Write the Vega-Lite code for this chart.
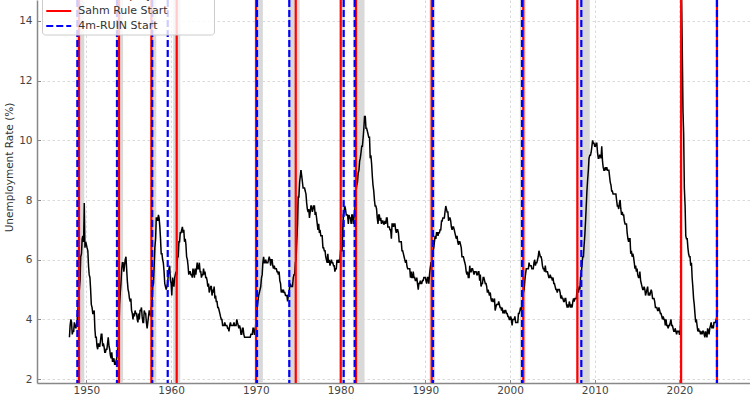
{
"$schema":"https://vega.github.io/schema/vega-lite/v6.json",
"width":713,"height":383,
"autosize":{"type":"none"},
"padding":{"left":37,"top":0,"right":0,"bottom":17},
"background":"white",
"config":{
 "font":"DejaVu Sans",
 "view":{"stroke":null},
 "axis":{"labelFont":"DejaVu Sans","labelFontSize":10.5,"labelColor":"#444444","domainColor":"#888888","domainWidth":1.5,"tickColor":"#888888","tickSize":-3.5,"tickWidth":1,"gridColor":"#d0d0d0","gridDash":[2.5,2.5],"gridWidth":0.8,"titleFont":"DejaVu Sans","titleFontSize":10.5,"titleColor":"#333333","titleFontWeight":"normal"},
 "legend":{"symbolType":"M-2,0H2","symbolSize":156,"symbolStrokeWidth":2,"symbolFillColor":"transparent","symbolOffset":6.25,"labelOffset":12,"labelFont":"DejaVu Sans","labelFontSize":11,"labelColor":"#333333","padding":3,"rowPadding":2,"fillColor":"rgba(255,255,255,0.8)","strokeColor":"#cccccc","cornerRadius":3}
},
"datasets":{
"rec":[{"a":1948.83,"b":1949.75},{"a":1953.5,"b":1954.33},{"a":1957.58,"b":1958.25},{"a":1960.25,"b":1961.08},{"a":1969.92,"b":1970.83},{"a":1973.83,"b":1975.17},{"a":1980.0,"b":1980.5},{"a":1981.5,"b":1982.83},{"a":1990.5,"b":1991.17},{"a":2001.17,"b":2001.83},{"a":2007.92,"b":2009.42},{"a":2020.08,"b":2020.25}],
"sig":[{"x":1949.13,"s":"Sahm Rule Start"},{"x":1953.85,"s":"Sahm Rule Start"},{"x":1957.67,"s":"Sahm Rule Start"},{"x":1960.66,"s":"Sahm Rule Start"},{"x":1970.02,"s":"Sahm Rule Start"},{"x":1974.71,"s":"Sahm Rule Start"},{"x":1980.02,"s":"Sahm Rule Start"},{"x":1981.82,"s":"Sahm Rule Start"},{"x":1990.76,"s":"Sahm Rule Start"},{"x":2001.57,"s":"Sahm Rule Start"},{"x":2007.95,"s":"Sahm Rule Start"},{"x":2020.2,"s":"Sahm Rule Start"},{"x":2024.43,"s":"Sahm Rule Start"},
{"x":1948.93,"s":"4m-RUIN Start"},{"x":1953.61,"s":"4m-RUIN Start"},{"x":1957.77,"s":"4m-RUIN Start"},{"x":1959.6,"s":"4m-RUIN Start"},{"x":1970.14,"s":"4m-RUIN Start"},{"x":1973.95,"s":"4m-RUIN Start"},{"x":1980.37,"s":"4m-RUIN Start"},{"x":1981.67,"s":"4m-RUIN Start"},{"x":1990.91,"s":"4m-RUIN Start"},{"x":2001.42,"s":"4m-RUIN Start"},{"x":2008.42,"s":"4m-RUIN Start"},{"x":2024.43,"s":"4m-RUIN Start"}],
"rate":[
{"t":1948.00,"u":3.4},{"t":1948.08,"u":3.8},{"t":1948.17,"u":4.0},{"t":1948.25,"u":3.9},{"t":1948.33,"u":3.5},{"t":1948.42,"u":3.6},{"t":1948.50,"u":3.6},{"t":1948.58,"u":3.9},{"t":1948.67,"u":3.8},{"t":1948.75,"u":3.7},{"t":1948.83,"u":3.8},{"t":1948.92,"u":4.0},
{"t":1949.00,"u":4.3},{"t":1949.08,"u":4.7},{"t":1949.17,"u":5.0},{"t":1949.25,"u":5.3},{"t":1949.33,"u":6.1},{"t":1949.42,"u":6.2},{"t":1949.50,"u":6.7},{"t":1949.58,"u":6.8},{"t":1949.67,"u":6.6},{"t":1949.75,"u":7.9},{"t":1949.83,"u":6.4},{"t":1949.92,"u":6.6},
{"t":1950.00,"u":6.5},{"t":1950.08,"u":6.4},{"t":1950.17,"u":6.3},{"t":1950.25,"u":5.8},{"t":1950.33,"u":5.5},{"t":1950.42,"u":5.4},{"t":1950.50,"u":5.0},{"t":1950.58,"u":4.5},{"t":1950.67,"u":4.4},{"t":1950.75,"u":4.2},{"t":1950.83,"u":4.2},{"t":1950.92,"u":4.3},
{"t":1951.00,"u":3.7},{"t":1951.08,"u":3.4},{"t":1951.17,"u":3.4},{"t":1951.25,"u":3.1},{"t":1951.33,"u":3.0},{"t":1951.42,"u":3.2},{"t":1951.50,"u":3.1},{"t":1951.58,"u":3.1},{"t":1951.67,"u":3.3},{"t":1951.75,"u":3.5},{"t":1951.83,"u":3.5},{"t":1951.92,"u":3.1},
{"t":1952.00,"u":3.2},{"t":1952.08,"u":3.1},{"t":1952.17,"u":2.9},{"t":1952.25,"u":2.9},{"t":1952.33,"u":3.0},{"t":1952.42,"u":3.0},{"t":1952.50,"u":3.2},{"t":1952.58,"u":3.4},{"t":1952.67,"u":3.1},{"t":1952.75,"u":3.0},{"t":1952.83,"u":2.8},{"t":1952.92,"u":2.7},
{"t":1953.00,"u":2.9},{"t":1953.08,"u":2.6},{"t":1953.17,"u":2.6},{"t":1953.25,"u":2.7},{"t":1953.33,"u":2.5},{"t":1953.42,"u":2.5},{"t":1953.50,"u":2.6},{"t":1953.58,"u":2.7},{"t":1953.67,"u":2.9},{"t":1953.75,"u":3.1},{"t":1953.83,"u":3.5},{"t":1953.92,"u":4.5},
{"t":1954.00,"u":4.9},{"t":1954.08,"u":5.2},{"t":1954.17,"u":5.7},{"t":1954.25,"u":5.9},{"t":1954.33,"u":5.9},{"t":1954.42,"u":5.6},{"t":1954.50,"u":5.8},{"t":1954.58,"u":6.0},{"t":1954.67,"u":6.1},{"t":1954.75,"u":5.7},{"t":1954.83,"u":5.3},{"t":1954.92,"u":5.0},
{"t":1955.00,"u":4.9},{"t":1955.08,"u":4.7},{"t":1955.17,"u":4.6},{"t":1955.25,"u":4.7},{"t":1955.33,"u":4.3},{"t":1955.42,"u":4.2},{"t":1955.50,"u":4.0},{"t":1955.58,"u":4.2},{"t":1955.67,"u":4.1},{"t":1955.75,"u":4.3},{"t":1955.83,"u":4.2},{"t":1955.92,"u":4.2},
{"t":1956.00,"u":4.0},{"t":1956.08,"u":3.9},{"t":1956.17,"u":4.2},{"t":1956.25,"u":4.0},{"t":1956.33,"u":4.3},{"t":1956.42,"u":4.3},{"t":1956.50,"u":4.4},{"t":1956.58,"u":4.1},{"t":1956.67,"u":3.9},{"t":1956.75,"u":3.9},{"t":1956.83,"u":4.3},{"t":1956.92,"u":4.2},
{"t":1957.00,"u":4.2},{"t":1957.08,"u":3.9},{"t":1957.17,"u":3.7},{"t":1957.25,"u":3.9},{"t":1957.33,"u":4.1},{"t":1957.42,"u":4.3},{"t":1957.50,"u":4.2},{"t":1957.58,"u":4.1},{"t":1957.67,"u":4.4},{"t":1957.75,"u":4.5},{"t":1957.83,"u":5.1},{"t":1957.92,"u":5.2},
{"t":1958.00,"u":5.8},{"t":1958.08,"u":6.4},{"t":1958.17,"u":6.7},{"t":1958.25,"u":7.4},{"t":1958.33,"u":7.4},{"t":1958.42,"u":7.3},{"t":1958.50,"u":7.5},{"t":1958.58,"u":7.4},{"t":1958.67,"u":7.1},{"t":1958.75,"u":6.7},{"t":1958.83,"u":6.2},{"t":1958.92,"u":6.2},
{"t":1959.00,"u":6.0},{"t":1959.08,"u":5.9},{"t":1959.17,"u":5.6},{"t":1959.25,"u":5.2},{"t":1959.33,"u":5.1},{"t":1959.42,"u":5.0},{"t":1959.50,"u":5.1},{"t":1959.58,"u":5.2},{"t":1959.67,"u":5.5},{"t":1959.75,"u":5.7},{"t":1959.83,"u":5.8},{"t":1959.92,"u":5.3},
{"t":1960.00,"u":5.2},{"t":1960.08,"u":4.8},{"t":1960.17,"u":5.4},{"t":1960.25,"u":5.2},{"t":1960.33,"u":5.1},{"t":1960.42,"u":5.4},{"t":1960.50,"u":5.5},{"t":1960.58,"u":5.6},{"t":1960.67,"u":5.5},{"t":1960.75,"u":6.1},{"t":1960.83,"u":6.1},{"t":1960.92,"u":6.6},
{"t":1961.00,"u":6.6},{"t":1961.08,"u":6.9},{"t":1961.17,"u":6.9},{"t":1961.25,"u":7.0},{"t":1961.33,"u":7.1},{"t":1961.42,"u":6.9},{"t":1961.50,"u":7.0},{"t":1961.58,"u":6.6},{"t":1961.67,"u":6.7},{"t":1961.75,"u":6.5},{"t":1961.83,"u":6.1},{"t":1961.92,"u":6.0},
{"t":1962.00,"u":5.8},{"t":1962.08,"u":5.5},{"t":1962.17,"u":5.6},{"t":1962.25,"u":5.6},{"t":1962.33,"u":5.5},{"t":1962.42,"u":5.5},{"t":1962.50,"u":5.4},{"t":1962.58,"u":5.7},{"t":1962.67,"u":5.6},{"t":1962.75,"u":5.4},{"t":1962.83,"u":5.7},{"t":1962.92,"u":5.5},
{"t":1963.00,"u":5.7},{"t":1963.08,"u":5.9},{"t":1963.17,"u":5.7},{"t":1963.25,"u":5.7},{"t":1963.33,"u":5.9},{"t":1963.42,"u":5.6},{"t":1963.50,"u":5.6},{"t":1963.58,"u":5.4},{"t":1963.67,"u":5.5},{"t":1963.75,"u":5.5},{"t":1963.83,"u":5.7},{"t":1963.92,"u":5.5},
{"t":1964.00,"u":5.6},{"t":1964.08,"u":5.4},{"t":1964.17,"u":5.4},{"t":1964.25,"u":5.3},{"t":1964.33,"u":5.1},{"t":1964.42,"u":5.2},{"t":1964.50,"u":4.9},{"t":1964.58,"u":5.0},{"t":1964.67,"u":5.1},{"t":1964.75,"u":5.1},{"t":1964.83,"u":4.8},{"t":1964.92,"u":5.0},
{"t":1965.00,"u":4.9},{"t":1965.08,"u":5.1},{"t":1965.17,"u":4.7},{"t":1965.25,"u":4.8},{"t":1965.33,"u":4.6},{"t":1965.42,"u":4.6},{"t":1965.50,"u":4.4},{"t":1965.58,"u":4.4},{"t":1965.67,"u":4.3},{"t":1965.75,"u":4.2},{"t":1965.83,"u":4.1},{"t":1965.92,"u":4.0},
{"t":1966.00,"u":4.0},{"t":1966.08,"u":3.8},{"t":1966.17,"u":3.8},{"t":1966.25,"u":3.8},{"t":1966.33,"u":3.9},{"t":1966.42,"u":3.8},{"t":1966.50,"u":3.8},{"t":1966.58,"u":3.8},{"t":1966.67,"u":3.7},{"t":1966.75,"u":3.7},{"t":1966.83,"u":3.6},{"t":1966.92,"u":3.8},
{"t":1967.00,"u":3.9},{"t":1967.08,"u":3.8},{"t":1967.17,"u":3.8},{"t":1967.25,"u":3.8},{"t":1967.33,"u":3.8},{"t":1967.42,"u":3.9},{"t":1967.50,"u":3.8},{"t":1967.58,"u":3.8},{"t":1967.67,"u":3.8},{"t":1967.75,"u":4.0},{"t":1967.83,"u":3.9},{"t":1967.92,"u":3.8},
{"t":1968.00,"u":3.7},{"t":1968.08,"u":3.8},{"t":1968.17,"u":3.7},{"t":1968.25,"u":3.5},{"t":1968.33,"u":3.5},{"t":1968.42,"u":3.7},{"t":1968.50,"u":3.7},{"t":1968.58,"u":3.5},{"t":1968.67,"u":3.4},{"t":1968.75,"u":3.4},{"t":1968.83,"u":3.4},{"t":1968.92,"u":3.4},
{"t":1969.00,"u":3.4},{"t":1969.08,"u":3.4},{"t":1969.17,"u":3.4},{"t":1969.25,"u":3.4},{"t":1969.33,"u":3.4},{"t":1969.42,"u":3.5},{"t":1969.50,"u":3.5},{"t":1969.58,"u":3.5},{"t":1969.67,"u":3.7},{"t":1969.75,"u":3.7},{"t":1969.83,"u":3.5},{"t":1969.92,"u":3.5},
{"t":1970.00,"u":3.9},{"t":1970.08,"u":4.2},{"t":1970.17,"u":4.4},{"t":1970.25,"u":4.6},{"t":1970.33,"u":4.8},{"t":1970.42,"u":4.9},{"t":1970.50,"u":5.0},{"t":1970.58,"u":5.1},{"t":1970.67,"u":5.4},{"t":1970.75,"u":5.5},{"t":1970.83,"u":5.9},{"t":1970.92,"u":6.1},
{"t":1971.00,"u":5.9},{"t":1971.08,"u":5.9},{"t":1971.17,"u":6.0},{"t":1971.25,"u":5.9},{"t":1971.33,"u":5.9},{"t":1971.42,"u":5.9},{"t":1971.50,"u":6.0},{"t":1971.58,"u":6.1},{"t":1971.67,"u":6.0},{"t":1971.75,"u":5.8},{"t":1971.83,"u":6.0},{"t":1971.92,"u":6.0},
{"t":1972.00,"u":5.8},{"t":1972.08,"u":5.7},{"t":1972.17,"u":5.8},{"t":1972.25,"u":5.7},{"t":1972.33,"u":5.7},{"t":1972.42,"u":5.7},{"t":1972.50,"u":5.6},{"t":1972.58,"u":5.6},{"t":1972.67,"u":5.5},{"t":1972.75,"u":5.6},{"t":1972.83,"u":5.3},{"t":1972.92,"u":5.2},
{"t":1973.00,"u":4.9},{"t":1973.08,"u":5.0},{"t":1973.17,"u":4.9},{"t":1973.25,"u":5.0},{"t":1973.33,"u":4.9},{"t":1973.42,"u":4.9},{"t":1973.50,"u":4.8},{"t":1973.58,"u":4.8},{"t":1973.67,"u":4.8},{"t":1973.75,"u":4.6},{"t":1973.83,"u":4.8},{"t":1973.92,"u":4.9},
{"t":1974.00,"u":5.1},{"t":1974.08,"u":5.2},{"t":1974.17,"u":5.1},{"t":1974.25,"u":5.1},{"t":1974.33,"u":5.1},{"t":1974.42,"u":5.4},{"t":1974.50,"u":5.5},{"t":1974.58,"u":5.5},{"t":1974.67,"u":5.9},{"t":1974.75,"u":6.0},{"t":1974.83,"u":6.6},{"t":1974.92,"u":7.2},
{"t":1975.00,"u":8.1},{"t":1975.08,"u":8.1},{"t":1975.17,"u":8.6},{"t":1975.25,"u":8.8},{"t":1975.33,"u":9.0},{"t":1975.42,"u":8.8},{"t":1975.50,"u":8.6},{"t":1975.58,"u":8.4},{"t":1975.67,"u":8.4},{"t":1975.75,"u":8.4},{"t":1975.83,"u":8.3},{"t":1975.92,"u":8.2},
{"t":1976.00,"u":7.9},{"t":1976.08,"u":7.7},{"t":1976.17,"u":7.6},{"t":1976.25,"u":7.7},{"t":1976.33,"u":7.4},{"t":1976.42,"u":7.6},{"t":1976.50,"u":7.8},{"t":1976.58,"u":7.8},{"t":1976.67,"u":7.6},{"t":1976.75,"u":7.7},{"t":1976.83,"u":7.8},{"t":1976.92,"u":7.8},
{"t":1977.00,"u":7.5},{"t":1977.08,"u":7.6},{"t":1977.17,"u":7.4},{"t":1977.25,"u":7.2},{"t":1977.33,"u":7.0},{"t":1977.42,"u":7.2},{"t":1977.50,"u":6.9},{"t":1977.58,"u":7.0},{"t":1977.67,"u":6.8},{"t":1977.75,"u":6.8},{"t":1977.83,"u":6.8},{"t":1977.92,"u":6.4},
{"t":1978.00,"u":6.4},{"t":1978.08,"u":6.3},{"t":1978.17,"u":6.3},{"t":1978.25,"u":6.1},{"t":1978.33,"u":6.0},{"t":1978.42,"u":5.9},{"t":1978.50,"u":6.2},{"t":1978.58,"u":5.9},{"t":1978.67,"u":6.0},{"t":1978.75,"u":5.8},{"t":1978.83,"u":5.9},{"t":1978.92,"u":6.0},
{"t":1979.00,"u":5.9},{"t":1979.08,"u":5.9},{"t":1979.17,"u":5.8},{"t":1979.25,"u":5.8},{"t":1979.33,"u":5.6},{"t":1979.42,"u":5.7},{"t":1979.50,"u":5.7},{"t":1979.58,"u":6.0},{"t":1979.67,"u":5.9},{"t":1979.75,"u":6.0},{"t":1979.83,"u":5.9},{"t":1979.92,"u":6.0},
{"t":1980.00,"u":6.3},{"t":1980.08,"u":6.3},{"t":1980.17,"u":6.3},{"t":1980.25,"u":6.9},{"t":1980.33,"u":7.5},{"t":1980.42,"u":7.6},{"t":1980.50,"u":7.8},{"t":1980.58,"u":7.7},{"t":1980.67,"u":7.5},{"t":1980.75,"u":7.5},{"t":1980.83,"u":7.5},{"t":1980.92,"u":7.2},
{"t":1981.00,"u":7.5},{"t":1981.08,"u":7.4},{"t":1981.17,"u":7.4},{"t":1981.25,"u":7.2},{"t":1981.33,"u":7.5},{"t":1981.42,"u":7.5},{"t":1981.50,"u":7.2},{"t":1981.58,"u":7.4},{"t":1981.67,"u":7.6},{"t":1981.75,"u":7.9},{"t":1981.83,"u":8.3},{"t":1981.92,"u":8.5},
{"t":1982.00,"u":8.6},{"t":1982.08,"u":8.9},{"t":1982.17,"u":9.0},{"t":1982.25,"u":9.3},{"t":1982.33,"u":9.4},{"t":1982.42,"u":9.6},{"t":1982.50,"u":9.8},{"t":1982.58,"u":9.8},{"t":1982.67,"u":10.1},{"t":1982.75,"u":10.4},{"t":1982.83,"u":10.8},{"t":1982.92,"u":10.8},
{"t":1983.00,"u":10.4},{"t":1983.08,"u":10.4},{"t":1983.17,"u":10.3},{"t":1983.25,"u":10.2},{"t":1983.33,"u":10.1},{"t":1983.42,"u":10.1},{"t":1983.50,"u":9.4},{"t":1983.58,"u":9.5},{"t":1983.67,"u":9.2},{"t":1983.75,"u":8.8},{"t":1983.83,"u":8.5},{"t":1983.92,"u":8.3},
{"t":1984.00,"u":8.0},{"t":1984.08,"u":7.8},{"t":1984.17,"u":7.8},{"t":1984.25,"u":7.7},{"t":1984.33,"u":7.4},{"t":1984.42,"u":7.2},{"t":1984.50,"u":7.5},{"t":1984.58,"u":7.5},{"t":1984.67,"u":7.3},{"t":1984.75,"u":7.4},{"t":1984.83,"u":7.2},{"t":1984.92,"u":7.3},
{"t":1985.00,"u":7.3},{"t":1985.08,"u":7.2},{"t":1985.17,"u":7.2},{"t":1985.25,"u":7.3},{"t":1985.33,"u":7.2},{"t":1985.42,"u":7.4},{"t":1985.50,"u":7.4},{"t":1985.58,"u":7.1},{"t":1985.67,"u":7.1},{"t":1985.75,"u":7.1},{"t":1985.83,"u":7.0},{"t":1985.92,"u":7.0},
{"t":1986.00,"u":6.7},{"t":1986.08,"u":7.2},{"t":1986.17,"u":7.2},{"t":1986.25,"u":7.1},{"t":1986.33,"u":7.2},{"t":1986.42,"u":7.2},{"t":1986.50,"u":7.0},{"t":1986.58,"u":6.9},{"t":1986.67,"u":7.0},{"t":1986.75,"u":7.0},{"t":1986.83,"u":6.9},{"t":1986.92,"u":6.6},
{"t":1987.00,"u":6.6},{"t":1987.08,"u":6.6},{"t":1987.17,"u":6.6},{"t":1987.25,"u":6.3},{"t":1987.33,"u":6.3},{"t":1987.42,"u":6.2},{"t":1987.50,"u":6.1},{"t":1987.58,"u":6.0},{"t":1987.67,"u":5.9},{"t":1987.75,"u":6.0},{"t":1987.83,"u":5.8},{"t":1987.92,"u":5.7},
{"t":1988.00,"u":5.7},{"t":1988.08,"u":5.7},{"t":1988.17,"u":5.7},{"t":1988.25,"u":5.4},{"t":1988.33,"u":5.6},{"t":1988.42,"u":5.4},{"t":1988.50,"u":5.4},{"t":1988.58,"u":5.6},{"t":1988.67,"u":5.4},{"t":1988.75,"u":5.4},{"t":1988.83,"u":5.3},{"t":1988.92,"u":5.3},
{"t":1989.00,"u":5.4},{"t":1989.08,"u":5.2},{"t":1989.17,"u":5.0},{"t":1989.25,"u":5.2},{"t":1989.33,"u":5.2},{"t":1989.42,"u":5.3},{"t":1989.50,"u":5.2},{"t":1989.58,"u":5.2},{"t":1989.67,"u":5.3},{"t":1989.75,"u":5.3},{"t":1989.83,"u":5.4},{"t":1989.92,"u":5.4},
{"t":1990.00,"u":5.4},{"t":1990.08,"u":5.3},{"t":1990.17,"u":5.2},{"t":1990.25,"u":5.4},{"t":1990.33,"u":5.4},{"t":1990.42,"u":5.2},{"t":1990.50,"u":5.5},{"t":1990.58,"u":5.7},{"t":1990.67,"u":5.9},{"t":1990.75,"u":5.9},{"t":1990.83,"u":6.2},{"t":1990.92,"u":6.3},
{"t":1991.00,"u":6.4},{"t":1991.08,"u":6.6},{"t":1991.17,"u":6.8},{"t":1991.25,"u":6.7},{"t":1991.33,"u":6.9},{"t":1991.42,"u":6.9},{"t":1991.50,"u":6.8},{"t":1991.58,"u":6.9},{"t":1991.67,"u":6.9},{"t":1991.75,"u":7.0},{"t":1991.83,"u":7.0},{"t":1991.92,"u":7.3},
{"t":1992.00,"u":7.3},{"t":1992.08,"u":7.4},{"t":1992.17,"u":7.4},{"t":1992.25,"u":7.4},{"t":1992.33,"u":7.6},{"t":1992.42,"u":7.8},{"t":1992.50,"u":7.7},{"t":1992.58,"u":7.6},{"t":1992.67,"u":7.6},{"t":1992.75,"u":7.3},{"t":1992.83,"u":7.4},{"t":1992.92,"u":7.4},
{"t":1993.00,"u":7.3},{"t":1993.08,"u":7.1},{"t":1993.17,"u":7.0},{"t":1993.25,"u":7.1},{"t":1993.33,"u":7.1},{"t":1993.42,"u":7.0},{"t":1993.50,"u":6.9},{"t":1993.58,"u":6.8},{"t":1993.67,"u":6.7},{"t":1993.75,"u":6.8},{"t":1993.83,"u":6.6},{"t":1993.92,"u":6.5},
{"t":1994.00,"u":6.6},{"t":1994.08,"u":6.6},{"t":1994.17,"u":6.5},{"t":1994.25,"u":6.4},{"t":1994.33,"u":6.1},{"t":1994.42,"u":6.1},{"t":1994.50,"u":6.1},{"t":1994.58,"u":6.0},{"t":1994.67,"u":5.9},{"t":1994.75,"u":5.8},{"t":1994.83,"u":5.6},{"t":1994.92,"u":5.5},
{"t":1995.00,"u":5.6},{"t":1995.08,"u":5.4},{"t":1995.17,"u":5.4},{"t":1995.25,"u":5.8},{"t":1995.33,"u":5.6},{"t":1995.42,"u":5.6},{"t":1995.50,"u":5.7},{"t":1995.58,"u":5.7},{"t":1995.67,"u":5.6},{"t":1995.75,"u":5.5},{"t":1995.83,"u":5.6},{"t":1995.92,"u":5.6},
{"t":1996.00,"u":5.6},{"t":1996.08,"u":5.5},{"t":1996.17,"u":5.5},{"t":1996.25,"u":5.6},{"t":1996.33,"u":5.6},{"t":1996.42,"u":5.3},{"t":1996.50,"u":5.5},{"t":1996.58,"u":5.1},{"t":1996.67,"u":5.2},{"t":1996.75,"u":5.2},{"t":1996.83,"u":5.4},{"t":1996.92,"u":5.4},
{"t":1997.00,"u":5.3},{"t":1997.08,"u":5.2},{"t":1997.17,"u":5.2},{"t":1997.25,"u":5.1},{"t":1997.33,"u":4.9},{"t":1997.42,"u":5.0},{"t":1997.50,"u":4.9},{"t":1997.58,"u":4.8},{"t":1997.67,"u":4.9},{"t":1997.75,"u":4.7},{"t":1997.83,"u":4.6},{"t":1997.92,"u":4.7},
{"t":1998.00,"u":4.6},{"t":1998.08,"u":4.6},{"t":1998.17,"u":4.7},{"t":1998.25,"u":4.3},{"t":1998.33,"u":4.4},{"t":1998.42,"u":4.5},{"t":1998.50,"u":4.5},{"t":1998.58,"u":4.5},{"t":1998.67,"u":4.6},{"t":1998.75,"u":4.5},{"t":1998.83,"u":4.4},{"t":1998.92,"u":4.4},
{"t":1999.00,"u":4.3},{"t":1999.08,"u":4.4},{"t":1999.17,"u":4.2},{"t":1999.25,"u":4.3},{"t":1999.33,"u":4.2},{"t":1999.42,"u":4.3},{"t":1999.50,"u":4.3},{"t":1999.58,"u":4.2},{"t":1999.67,"u":4.2},{"t":1999.75,"u":4.1},{"t":1999.83,"u":4.1},{"t":1999.92,"u":4.0},
{"t":2000.00,"u":4.0},{"t":2000.08,"u":4.1},{"t":2000.17,"u":4.0},{"t":2000.25,"u":3.8},{"t":2000.33,"u":4.0},{"t":2000.42,"u":4.0},{"t":2000.50,"u":4.0},{"t":2000.58,"u":4.1},{"t":2000.67,"u":3.9},{"t":2000.75,"u":3.9},{"t":2000.83,"u":3.9},{"t":2000.92,"u":3.9},
{"t":2001.00,"u":4.2},{"t":2001.08,"u":4.2},{"t":2001.17,"u":4.3},{"t":2001.25,"u":4.4},{"t":2001.33,"u":4.3},{"t":2001.42,"u":4.5},{"t":2001.50,"u":4.6},{"t":2001.58,"u":4.9},{"t":2001.67,"u":5.0},{"t":2001.75,"u":5.3},{"t":2001.83,"u":5.5},{"t":2001.92,"u":5.7},
{"t":2002.00,"u":5.7},{"t":2002.08,"u":5.7},{"t":2002.17,"u":5.7},{"t":2002.25,"u":5.9},{"t":2002.33,"u":5.8},{"t":2002.42,"u":5.8},{"t":2002.50,"u":5.8},{"t":2002.58,"u":5.7},{"t":2002.67,"u":5.7},{"t":2002.75,"u":5.7},{"t":2002.83,"u":5.9},{"t":2002.92,"u":6.0},
{"t":2003.00,"u":5.8},{"t":2003.08,"u":5.9},{"t":2003.17,"u":5.9},{"t":2003.25,"u":6.0},{"t":2003.33,"u":6.1},{"t":2003.42,"u":6.3},{"t":2003.50,"u":6.2},{"t":2003.58,"u":6.1},{"t":2003.67,"u":6.1},{"t":2003.75,"u":6.0},{"t":2003.83,"u":5.8},{"t":2003.92,"u":5.7},
{"t":2004.00,"u":5.7},{"t":2004.08,"u":5.6},{"t":2004.17,"u":5.8},{"t":2004.25,"u":5.6},{"t":2004.33,"u":5.6},{"t":2004.42,"u":5.6},{"t":2004.50,"u":5.5},{"t":2004.58,"u":5.4},{"t":2004.67,"u":5.4},{"t":2004.75,"u":5.5},{"t":2004.83,"u":5.4},{"t":2004.92,"u":5.4},
{"t":2005.00,"u":5.3},{"t":2005.08,"u":5.4},{"t":2005.17,"u":5.2},{"t":2005.25,"u":5.2},{"t":2005.33,"u":5.1},{"t":2005.42,"u":5.0},{"t":2005.50,"u":5.0},{"t":2005.58,"u":4.9},{"t":2005.67,"u":5.0},{"t":2005.75,"u":5.0},{"t":2005.83,"u":5.0},{"t":2005.92,"u":4.9},
{"t":2006.00,"u":4.7},{"t":2006.08,"u":4.8},{"t":2006.17,"u":4.7},{"t":2006.25,"u":4.7},{"t":2006.33,"u":4.6},{"t":2006.42,"u":4.6},{"t":2006.50,"u":4.7},{"t":2006.58,"u":4.7},{"t":2006.67,"u":4.5},{"t":2006.75,"u":4.4},{"t":2006.83,"u":4.5},{"t":2006.92,"u":4.4},
{"t":2007.00,"u":4.6},{"t":2007.08,"u":4.5},{"t":2007.17,"u":4.4},{"t":2007.25,"u":4.5},{"t":2007.33,"u":4.4},{"t":2007.42,"u":4.6},{"t":2007.50,"u":4.7},{"t":2007.58,"u":4.6},{"t":2007.67,"u":4.7},{"t":2007.75,"u":4.7},{"t":2007.83,"u":4.7},{"t":2007.92,"u":5.0},
{"t":2008.00,"u":5.0},{"t":2008.08,"u":4.9},{"t":2008.17,"u":5.1},{"t":2008.25,"u":5.0},{"t":2008.33,"u":5.4},{"t":2008.42,"u":5.6},{"t":2008.50,"u":5.8},{"t":2008.58,"u":6.1},{"t":2008.67,"u":6.1},{"t":2008.75,"u":6.5},{"t":2008.83,"u":6.8},{"t":2008.92,"u":7.3},
{"t":2009.00,"u":7.8},{"t":2009.08,"u":8.3},{"t":2009.17,"u":8.7},{"t":2009.25,"u":9.0},{"t":2009.33,"u":9.4},{"t":2009.42,"u":9.5},{"t":2009.50,"u":9.5},{"t":2009.58,"u":9.6},{"t":2009.67,"u":9.8},{"t":2009.75,"u":10.0},{"t":2009.83,"u":9.9},{"t":2009.92,"u":9.9},
{"t":2010.00,"u":9.8},{"t":2010.08,"u":9.8},{"t":2010.17,"u":9.9},{"t":2010.25,"u":9.9},{"t":2010.33,"u":9.6},{"t":2010.42,"u":9.4},{"t":2010.50,"u":9.4},{"t":2010.58,"u":9.5},{"t":2010.67,"u":9.5},{"t":2010.75,"u":9.4},{"t":2010.83,"u":9.8},{"t":2010.92,"u":9.3},
{"t":2011.00,"u":9.1},{"t":2011.08,"u":9.0},{"t":2011.17,"u":9.0},{"t":2011.25,"u":9.1},{"t":2011.33,"u":9.0},{"t":2011.42,"u":9.1},{"t":2011.50,"u":9.0},{"t":2011.58,"u":9.0},{"t":2011.67,"u":9.0},{"t":2011.75,"u":8.8},{"t":2011.83,"u":8.6},{"t":2011.92,"u":8.5},
{"t":2012.00,"u":8.3},{"t":2012.08,"u":8.3},{"t":2012.17,"u":8.2},{"t":2012.25,"u":8.2},{"t":2012.33,"u":8.2},{"t":2012.42,"u":8.2},{"t":2012.50,"u":8.2},{"t":2012.58,"u":8.0},{"t":2012.67,"u":7.8},{"t":2012.75,"u":7.8},{"t":2012.83,"u":7.7},{"t":2012.92,"u":7.9},
{"t":2013.00,"u":8.0},{"t":2013.08,"u":7.7},{"t":2013.17,"u":7.5},{"t":2013.25,"u":7.6},{"t":2013.33,"u":7.5},{"t":2013.42,"u":7.5},{"t":2013.50,"u":7.3},{"t":2013.58,"u":7.2},{"t":2013.67,"u":7.2},{"t":2013.75,"u":7.2},{"t":2013.83,"u":6.9},{"t":2013.92,"u":6.7},
{"t":2014.00,"u":6.6},{"t":2014.08,"u":6.7},{"t":2014.17,"u":6.7},{"t":2014.25,"u":6.2},{"t":2014.33,"u":6.3},{"t":2014.42,"u":6.1},{"t":2014.50,"u":6.2},{"t":2014.58,"u":6.1},{"t":2014.67,"u":5.9},{"t":2014.75,"u":5.7},{"t":2014.83,"u":5.8},{"t":2014.92,"u":5.6},
{"t":2015.00,"u":5.7},{"t":2015.08,"u":5.5},{"t":2015.17,"u":5.4},{"t":2015.25,"u":5.4},{"t":2015.33,"u":5.6},{"t":2015.42,"u":5.3},{"t":2015.50,"u":5.2},{"t":2015.58,"u":5.1},{"t":2015.67,"u":5.0},{"t":2015.75,"u":5.0},{"t":2015.83,"u":5.1},{"t":2015.92,"u":5.0},
{"t":2016.00,"u":4.8},{"t":2016.08,"u":4.9},{"t":2016.17,"u":5.0},{"t":2016.25,"u":5.1},{"t":2016.33,"u":4.8},{"t":2016.42,"u":4.9},{"t":2016.50,"u":4.8},{"t":2016.58,"u":4.9},{"t":2016.67,"u":5.0},{"t":2016.75,"u":4.9},{"t":2016.83,"u":4.7},{"t":2016.92,"u":4.7},
{"t":2017.00,"u":4.7},{"t":2017.08,"u":4.6},{"t":2017.17,"u":4.4},{"t":2017.25,"u":4.4},{"t":2017.33,"u":4.4},{"t":2017.42,"u":4.3},{"t":2017.50,"u":4.3},{"t":2017.58,"u":4.4},{"t":2017.67,"u":4.3},{"t":2017.75,"u":4.2},{"t":2017.83,"u":4.2},{"t":2017.92,"u":4.1},
{"t":2018.00,"u":4.0},{"t":2018.08,"u":4.1},{"t":2018.17,"u":4.0},{"t":2018.25,"u":4.0},{"t":2018.33,"u":3.8},{"t":2018.42,"u":4.0},{"t":2018.50,"u":3.8},{"t":2018.58,"u":3.8},{"t":2018.67,"u":3.7},{"t":2018.75,"u":3.8},{"t":2018.83,"u":3.8},{"t":2018.92,"u":3.9},
{"t":2019.00,"u":4.0},{"t":2019.08,"u":3.8},{"t":2019.17,"u":3.8},{"t":2019.25,"u":3.7},{"t":2019.33,"u":3.6},{"t":2019.42,"u":3.6},{"t":2019.50,"u":3.7},{"t":2019.58,"u":3.6},{"t":2019.67,"u":3.5},{"t":2019.75,"u":3.6},{"t":2019.83,"u":3.6},{"t":2019.92,"u":3.6},
{"t":2020.00,"u":3.5},{"t":2020.08,"u":3.5},{"t":2020.17,"u":4.4},{"t":2020.25,"u":14.8},{"t":2020.33,"u":13.2},{"t":2020.42,"u":11.0},{"t":2020.50,"u":10.2},{"t":2020.58,"u":8.4},{"t":2020.67,"u":7.8},{"t":2020.75,"u":6.8},{"t":2020.83,"u":6.7},{"t":2020.92,"u":6.7},
{"t":2021.00,"u":6.4},{"t":2021.08,"u":6.2},{"t":2021.17,"u":6.1},{"t":2021.25,"u":6.1},{"t":2021.33,"u":5.8},{"t":2021.42,"u":5.9},{"t":2021.50,"u":5.4},{"t":2021.58,"u":5.1},{"t":2021.67,"u":4.7},{"t":2021.75,"u":4.5},{"t":2021.83,"u":4.2},{"t":2021.92,"u":3.9},
{"t":2022.00,"u":4.0},{"t":2022.08,"u":3.8},{"t":2022.17,"u":3.6},{"t":2022.25,"u":3.7},{"t":2022.33,"u":3.6},{"t":2022.42,"u":3.6},{"t":2022.50,"u":3.5},{"t":2022.58,"u":3.6},{"t":2022.67,"u":3.5},{"t":2022.75,"u":3.6},{"t":2022.83,"u":3.6},{"t":2022.92,"u":3.5},
{"t":2023.00,"u":3.4},{"t":2023.08,"u":3.6},{"t":2023.17,"u":3.5},{"t":2023.25,"u":3.4},{"t":2023.33,"u":3.7},{"t":2023.42,"u":3.6},{"t":2023.50,"u":3.5},{"t":2023.58,"u":3.7},{"t":2023.67,"u":3.8},{"t":2023.75,"u":3.9},{"t":2023.83,"u":3.7},{"t":2023.92,"u":3.8},
{"t":2024.00,"u":3.7},{"t":2024.08,"u":3.9},{"t":2024.17,"u":3.9},{"t":2024.25,"u":3.9},{"t":2024.33,"u":4.0},{"t":2024.42,"u":4.1},{"t":2024.50,"u":4.3}
]
},
"layer":[
{"data":{"name":"rec"},
 "mark":{"type":"rect","color":"#d9d9d9"},
 "encoding":{
  "x":{"field":"a","type":"quantitative","scale":{"domain":[1944.17,2028.33],"nice":false,"zero":false},
       "axis":{"values":[1950,1960,1970,1980,1990,2000,2010,2020],"format":"d","title":null,"labelPadding":6,"grid":true}},
  "x2":{"field":"b"}}},
{"data":{"name":"rate"},
 "mark":{"type":"line","strokeWidth":1.5,"clip":true},
 "encoding":{
  "x":{"field":"t","type":"quantitative"},
  "y":{"field":"u","type":"quantitative","scale":{"domain":[1.87,14.7],"nice":false,"zero":false},
       "axis":{"values":[2,4,6,8,10,12,14],"title":"Unemployment Rate (%)","labelPadding":8.5,"grid":true,"titleX":-28,"titleY":167,"titleAngle":270,"titleBaseline":"middle","titleAlign":"center"}},
  "color":{"datum":"US Unemployment Rate","type":"nominal",
    "scale":{"domain":["US Unemployment Rate","Sahm Rule Start","4m-RUIN Start"],"range":["#000000","#ff0000","#0000ff"]},
    "legend":{"title":null,"orient":"none","legendX":5,"legendY":-14.5}},
  "strokeDash":{"datum":"US Unemployment Rate","type":"nominal",
    "scale":{"domain":["US Unemployment Rate","Sahm Rule Start","4m-RUIN Start"],"range":[[1,0],[1,0],[7,3]]},
    "legend":{"title":null,"orient":"none","legendX":5,"legendY":-14.5}}}},
{"data":{"name":"sig"},
 "mark":{"type":"rule","strokeWidth":2.2},
 "encoding":{
  "x":{"field":"x","type":"quantitative"},
  "color":{"field":"s","type":"nominal","legend":{"title":null,"orient":"none","legendX":5,"legendY":-14.5}},
  "strokeDash":{"field":"s","type":"nominal","legend":{"title":null,"orient":"none","legendX":5,"legendY":-14.5}}}}
]
}
